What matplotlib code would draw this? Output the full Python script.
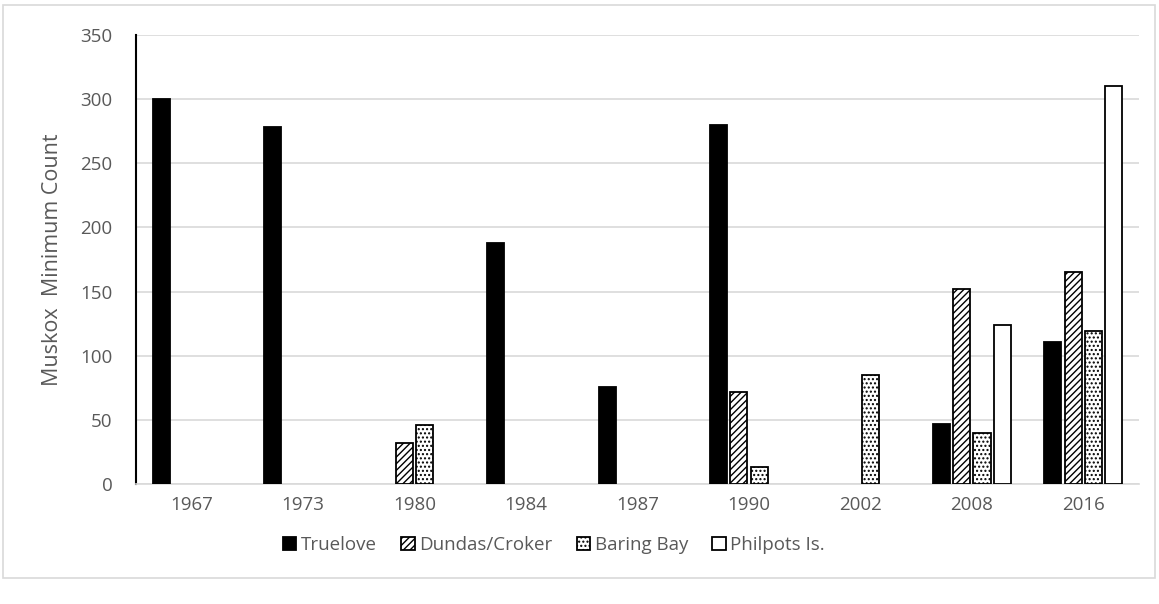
import matplotlib
matplotlib.use("Agg")
import matplotlib.pyplot as plt
import numpy as np
from matplotlib.patches import Rectangle

years = ["1967", "1973", "1980", "1984", "1987", "1990", "2002", "2008", "2016"]
series = ["Truelove", "Dundas/Croker", "Baring Bay", "Philpots Is."]
truelove = [300, 278, 0, 188, 76, 280, 0, 47, 111]
dundas = [0, 0, 32, 0, 0, 72, 0, 152, 165]
baring = [0, 0, 46, 0, 0, 13, 85, 40, 119]
philpots = [0, 0, 0, 0, 0, 0, 0, 124, 310]

plt.rcParams["font.family"] = ["Open Sans", "DejaVu Sans"]
plt.rcParams["hatch.linewidth"] = 1.0

fig = plt.figure(figsize=(11.59, 6.04), dpi=100)
ax = fig.add_axes([136 / 1159, 1 - 484 / 604, 1003 / 1159, 449 / 604])

x = np.arange(len(years))
pitch = 0.182
width = 0.153
styles = [
    dict(color="black", edgecolor="black"),
    dict(color="white", edgecolor="black", hatch="/////"),
    dict(color="white", edgecolor="black", hatch="...."),
    dict(color="white", edgecolor="black"),
]
data = [truelove, dundas, baring, philpots]
for i, (name, vals, st) in enumerate(zip(series, data, styles)):
    vals = np.array(vals, dtype=float)
    mask = vals > 0
    ax.bar(x[mask] + (i - 1.5) * pitch, vals[mask], width, label=name,
           linewidth=1.3, zorder=3, **st)

ax.set_xlim(-0.5, len(years) - 0.5)
ax.set_ylim(0, 350)
ax.set_yticks(range(0, 351, 50))
ax.set_xticks(x)
ax.set_xticklabels(years)
ax.grid(axis="y", color="#d9d9d9", linewidth=1.2, zorder=0)
ax.tick_params(length=0, labelsize=13.5, colors="#595959")
ax.tick_params(axis="x", pad=9)
ax.tick_params(axis="y", pad=17)
for s in ["top", "right"]:
    ax.spines[s].set_visible(False)
ax.spines["left"].set_color("black")
ax.spines["left"].set_linewidth(1.5)
ax.spines["bottom"].set_color("#d9d9d9")
ax.spines["bottom"].set_linewidth(1.2)
ax.set_ylabel("Muskox  Minimum Count", fontsize=15.5, color="#595959", labelpad=12)

fig.legend(loc="center", bbox_to_anchor=(0.478, 0.098), ncol=4, frameon=False,
           fontsize=13.5, labelcolor="#595959", handlelength=0.7, handleheight=0.7,
           handletextpad=0.25, columnspacing=1.3)

fig.patches.append(Rectangle((3 / 1159, 1 - 578 / 604), 1152 / 1159, 573 / 604,
                             transform=fig.transFigure, fill=False,
                             edgecolor="#d9d9d9", linewidth=1.2))

fig.savefig("out.png", dpi=100)
